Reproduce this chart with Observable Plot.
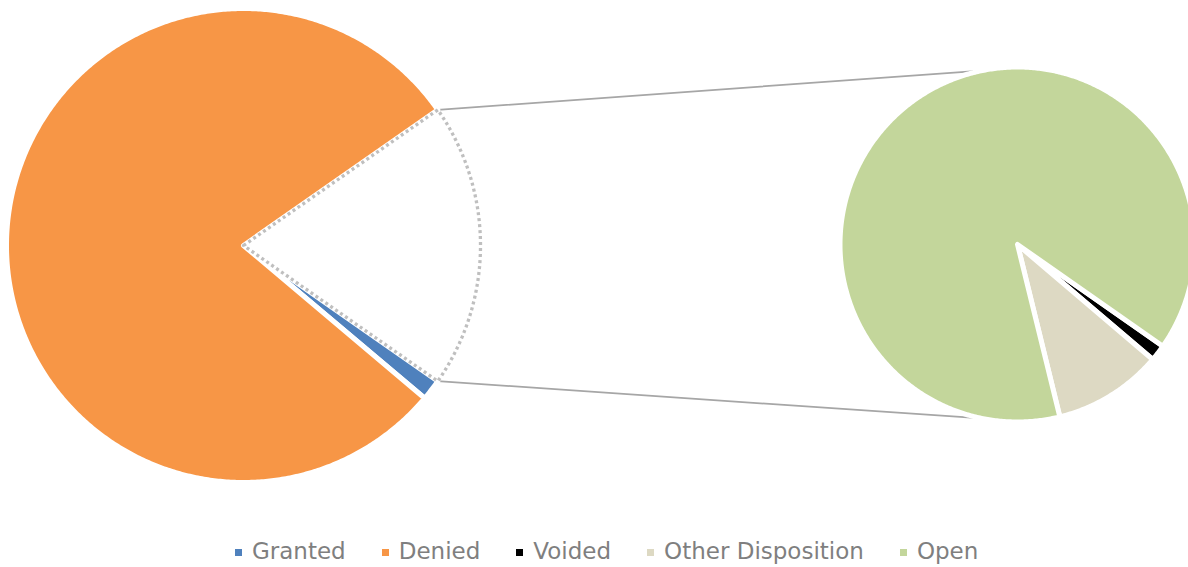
<!DOCTYPE html>
<html><head><meta charset="utf-8">
<script src="https://cdn.jsdelivr.net/npm/d3@7"></script>
<script src="https://cdn.jsdelivr.net/npm/@observablehq/plot@0.6"></script>
<style>
body{margin:0;background:#fff;}
#legend{display:flex;align-items:center;padding-left:235px;padding-top:11px;height:31px;font-family:"DejaVu Sans";font-size:23px;line-height:27px;color:#7f7f7f;white-space:nowrap;}
.item{display:flex;align-items:center;margin-right:36px;}
.sw{width:7px;height:7px;margin-right:10px;position:relative;top:1px;}
</style></head><body><div id="chart"></div><div id="legend"></div>
<script>
// ---- data ----
const categories = ["Granted", "Denied", "Voided", "Other Disposition", "Open"];
const colors = ["#4f81bd", "#f79646", "#000000", "#ddd9c3", "#c3d69b"];
const mainCategories = ["Granted", "Denied"];
const mainValues = [15, 820];
const secondaryCategories = ["Voided", "Other Disposition", "Open"];
const secondaryValues = [3, 20, 178];

// ---- layout ----
const W = 1188, H = 525;
const k = 237;                 // px per unit (main pie radius = 1 unit)
const mainPx = [243, 245];
const main = {cx: 0, cy: 0, r: 1};
const second = {cx: (1017 - mainPx[0]) / k, cy: (mainPx[1] - 244) / k, r: 177.5 / k};
const secondStartDeg = 125;    // where the secondary pie starts (clockwise from 12 o'clock)
const connectorDeg = 11.5;     // where connector lines meet the secondary pie

const otherTotal = d3.sum(secondaryValues);
const total = d3.sum(mainValues) + otherTotal;
const otherAngle = otherTotal / total * 2 * Math.PI;
const mainStart = Math.PI / 2 - otherAngle / 2;

function slicePoints(arcs, c, names) {
  const pts = [];
  arcs.forEach((a, i) => {
    const name = names[i];
    pts.push({name, x: c.cx, y: c.cy});
    const n = Math.max(2, Math.ceil((a.endAngle - a.startAngle) / (Math.PI / 360)));
    for (let j = 0; j <= n; j++) {
      const t = a.startAngle + (a.endAngle - a.startAngle) * j / n;
      pts.push({name, x: c.cx + c.r * Math.sin(t), y: c.cy + c.r * Math.cos(t)});
    }
  });
  return pts;
}

const mainArcs = d3.pie().sort(null).startAngle(mainStart).endAngle(mainStart + 2 * Math.PI)
  ([otherTotal, ...mainValues]);
const mainPts = slicePoints(mainArcs.slice(1), main, mainCategories);
const otherPts = slicePoints([mainArcs[0]], main, ["Other"]);

const secStart = secondStartDeg * Math.PI / 180;
const secArcs = d3.pie().sort(null).startAngle(secStart).endAngle(secStart + 2 * Math.PI)(secondaryValues);
const secPts = slicePoints(secArcs, second, secondaryCategories);

const ca = connectorDeg * Math.PI / 180;
const oa0 = mainArcs[0].startAngle, oa1 = mainArcs[0].endAngle;
const connectors = [
  {id: "top", x: main.cx + main.r * Math.sin(oa0), y: main.cy + main.r * Math.cos(oa0)},
  {id: "top", x: second.cx - second.r * Math.sin(ca), y: second.cy + second.r * Math.cos(ca)},
  {id: "bot", x: main.cx + main.r * Math.sin(oa1), y: main.cy + main.r * Math.cos(oa1)},
  {id: "bot", x: second.cx - second.r * Math.sin(ca), y: second.cy - second.r * Math.cos(ca)}
];

const chart = Plot.plot({
  width: W, height: H,
  margin: 0,
  x: {domain: [-mainPx[0] / k, (W - mainPx[0]) / k], axis: null},
  y: {domain: [-(H - mainPx[1]) / k, mainPx[1] / k], axis: null},
  color: {domain: categories, range: colors},
  marks: [
    Plot.line(connectors, {x: "x", y: "y", z: "id", stroke: "#a6a6a6", strokeWidth: 1.75}),
    Plot.line(mainPts, {x: "x", y: "y", z: "name", fill: "name", stroke: "white", strokeWidth: 5,
      curve: "linear-closed", strokeLinejoin: "round"}),
    Plot.line(otherPts, {x: "x", y: "y", z: "name", fill: "none", stroke: "#bfbfbf", strokeWidth: 3.3,
      strokeDasharray: "3 3", strokeLinecap: "butt", curve: "linear-closed"}),
    Plot.line(secPts, {x: "x", y: "y", z: "name", fill: "name", stroke: "white", strokeWidth: 5,
      curve: "linear-closed", strokeLinejoin: "round"})
  ]
});
document.getElementById("chart").appendChild(chart);

const legend = document.getElementById("legend");
categories.forEach((c, i) => {
  const it = document.createElement("div");
  it.className = "item";
  const sw = document.createElement("span");
  sw.className = "sw";
  sw.style.background = colors[i];
  const tx = document.createElement("span");
  tx.textContent = c;
  it.appendChild(sw); it.appendChild(tx);
  legend.appendChild(it);
});
</script>
</body></html>
